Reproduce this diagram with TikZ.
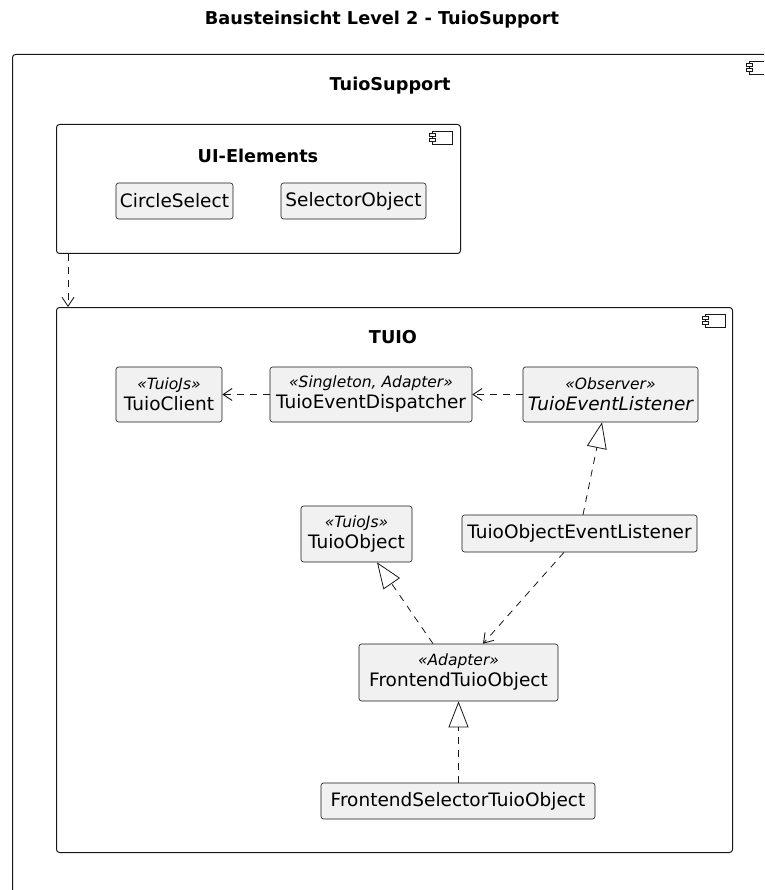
\documentclass[tikz,border=0pt]{standalone}
\usepackage{fontspec}
\setmainfont{DejaVu Sans}
\usetikzlibrary{arrows.meta,calc}
\definecolor{boxfill}{HTML}{F1F1F1}
\definecolor{ink}{HTML}{181818}
\newcommand\namefont{\fontsize{18.5}{21}\selectfont}
\newcommand\stfont{\fontsize{15.5}{17}\selectfont\itshape}
\newcommand\headfont{\fontsize{17.7}{20}\selectfont\bfseries}
\newcommand\compicon[2]{%
  \draw[ink, line width=0.7pt, fill=white] (#1,#2) rectangle ++(20,13);
  \draw[ink, line width=0.7pt, fill=white] (#1-3,#2+2.5) rectangle ++(6,3);
  \draw[ink, line width=0.7pt, fill=white] (#1-3,#2+7.5) rectangle ++(6,3);
}
\begin{document}
\begin{tikzpicture}[x=1pt,y=-1pt,
  cls/.style={draw=ink, fill=boxfill, rounded corners=2.5pt, line width=0.6pt,
    inner sep=0pt, align=center, font=\namefont},
  pkg/.style={draw=ink, line width=1pt, rounded corners=3pt, inner sep=0pt,
    anchor=north west},
  head/.style={font=\headfont, inner sep=0pt},
  dep/.style={draw=ink, line width=0.8pt, dash pattern=on 7pt off 6pt,
    -{Straight Barb[length=9pt,width=12pt,line width=0.9pt]}},
  real/.style={draw=ink, line width=0.8pt, dash pattern=on 7pt off 6pt,
    -{Triangle[open, length=26pt, width=20pt, fill=white, line width=0.8pt]}}
]
\clip (0,0) rectangle (764,890);
\fill[white] (0,0) rectangle (764,890);

% title
\node[head] (title) at (382,20) {Bausteinsicht Level 2 - TuioSupport};

% outer package
\node[pkg, minimum width=763pt, minimum height=880pt] (outer) at (12,54) {};
\node[head] (outerlbl) at (390,86) {TuioSupport};
\compicon{749}{61}

% UI-Elements package
\node[pkg, minimum width=404pt, minimum height=129pt] (ui) at (56,124) {};
\node[head] (uilbl) at (258,156) {UI-Elements};
\compicon{432}{131}
\node[cls, minimum width=117pt, minimum height=36pt] (cs) at (174.5,201) {CircleSelect};
\node[cls, minimum width=145pt, minimum height=36pt] (so) at (353.5,201) {SelectorObject};

% TUIO package
\node[pkg, minimum width=676pt, minimum height=545pt] (tuio) at (56,307) {};
\node[head] (tuiolbl) at (393,337) {TUIO};
\compicon{705}{314}

\node[cls, minimum width=106pt, minimum height=55pt] (tc) at (169,394.5)
  {{\stfont «TuioJs»}\\TuioClient};
\node[cls, minimum width=202pt, minimum height=55pt] (ted) at (371,394.5)
  {{\stfont «Singleton, Adapter»}\\TuioEventDispatcher};
\node[cls, minimum width=175pt, minimum height=55pt] (tel) at (610.5,394.5)
  {{\stfont «Observer»}\\{\itshape TuioEventListener}};
\node[cls, minimum width=111pt, minimum height=56pt] (to) at (356.5,534)
  {{\stfont «TuioJs»}\\TuioObject};
\node[cls, minimum width=235pt, minimum height=37pt] (toel) at (579.5,533.5)
  {TuioObjectEventListener};
\node[cls, minimum width=199pt, minimum height=57pt] (fto) at (458.5,672.5)
  {{\stfont «Adapter»}\\FrontendTuioObject};
\node[cls, minimum width=274pt, minimum height=36pt] (fsto) at (458,801)
  {FrontendSelectorTuioObject};

% connectors
\draw[dep] ([xshift=12pt]ui.south west) -- ([xshift=12pt]tuio.north west);
\draw[dep] (ted.west) -- (tc.east);
\draw[dep] (tel.west) -- (ted.east);
\draw[real] ([xshift=3.5pt]toel.north) -- ([xshift=-8.5pt]tel.south);
\draw[dep] ([xshift=-15.5pt]toel.south) -- ([xshift=24.5pt]fto.north);
\draw[real] ([xshift=-25.5pt]fto.north) -- ([xshift=20.5pt]to.south);
\draw[real] ([xshift=0.5pt]fsto.north) -- ([xshift=0pt]fto.south);
\end{tikzpicture}
\end{document}
